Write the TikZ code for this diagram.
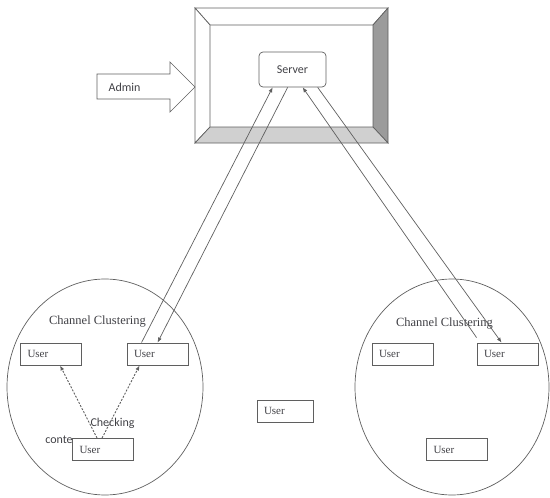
\documentclass[tikz,border=0pt]{standalone}
\usepackage{fontspec}
\setmainfont{Liberation Serif}
\newfontfamily\calibri{Carlito}
\usetikzlibrary{arrows.meta,calc}
\definecolor{edgegray}{RGB}{95,95,95}
\definecolor{bevelright}{RGB}{155,155,155}
\definecolor{bevelbottom}{RGB}{208,208,208}
\definecolor{textgray}{RGB}{65,65,70}

\begin{document}
\begin{tikzpicture}[x=1pt, y=-1pt,
    user/.style={rectangle, draw=edgegray, line width=0.9pt, fill=white, text width=47pt,
                 inner xsep=7pt, inner ysep=0pt, minimum height=22pt, align=left,
                 font=\fontsize{11}{12}\selectfont, text=textgray},
    link/.style={draw=edgegray, line width=0.7pt, -{Latex[length=5pt,width=4pt]}},
    check/.style={draw=edgegray, line width=0.9pt, dash pattern=on 2pt off 1.5pt,
                  -{Latex[length=5pt,width=4pt]}},
    cluster/.style={font=\fontsize{12.5}{13}\selectfont, text=textgray}]
  \useasboundingbox (0,0) rectangle (550,498);

  % server frame
  \filldraw[draw=edgegray, fill=white, line width=0.7pt] (195,8) -- (388,8) -- (373,25) -- (210,25) -- cycle;
  \filldraw[draw=edgegray, fill=white, line width=0.7pt] (195,8) -- (210,25) -- (210,127) -- (195,143) -- cycle;
  \filldraw[draw=edgegray, fill=bevelright, line width=0.7pt] (388,8) -- (388,143) -- (373,127) -- (373,25) -- cycle;
  \filldraw[draw=edgegray, fill=bevelbottom, line width=0.7pt] (195,143) -- (388,143) -- (373,127) -- (210,127) -- cycle;
  \node[rectangle, rounded corners=4pt, draw=edgegray, line width=0.7pt, minimum width=67pt,
        minimum height=35pt, font=\calibri\fontsize{12}{13}\selectfont, text=textgray] (srv) at (292.5,69.5) {Server};

  % admin arrow
  \draw[edgegray, line width=0.7pt] (97,74) -- (170,74) -- (170,62) -- (195,87) -- (170,112) -- (170,99) -- (97,99) -- cycle;
  \node[font=\calibri\fontsize{12}{13}\selectfont, text=textgray] (admin) at (124.5,87) {Admin};

  % clusters
  \draw[edgegray, line width=0.7pt] (105,387) ellipse [x radius=98, y radius=108];
  \draw[edgegray, line width=0.7pt] (452,387) ellipse [x radius=97, y radius=108];
  \node[cluster] (cl1) at (97.5,322) {Channel Clustering};
  \node[cluster] (cl2) at (444.5,324) {Channel Clustering};

  \node[font=\calibri\fontsize{12}{13}\selectfont, text=textgray] (chk) at (112.5,423) {Checking};
  \node[font=\calibri\fontsize{12}{13}\selectfont, text=textgray] (cnt) at (59,440) {conte};

  \node[user] (u1) at (51,354) {User};
  \node[user] (u2) at (157.5,354) {User};
  \node[user] (u3) at (103,449.5) {User};
  \node[user, text width=42pt] (um) at (285,411) {User};
  \node[user] (ua) at (402.5,354) {User};
  \node[user] (ub) at (507.5,354) {User};
  \node[user] (uc) at (457,449.5) {User};

  % links to the server
  \draw[link] ($(u2.north west)+(15,0)$) -- ($(srv.south west)+(14,0)$);
  \draw[link] ($(srv.south west)+(29,0)$) -- ($(u2.north west)+(31,0)$);
  \draw[link] ($(ub.north west)+(0,-5)$) -- ($(srv.south west)+(44,0)$);
  \draw[link] ($(srv.south west)+(59,0)$) -- ($(ub.north west)+(25,0)$);

  % checking
  \draw[check] ($(u3.north west)+(25,0)$) -- ($(u1.south west)+(40,0)$);
  \draw[check] ($(u3.north west)+(30,0)$) -- ($(u2.south west)+(13,0)$);
\end{tikzpicture}
\end{document}
